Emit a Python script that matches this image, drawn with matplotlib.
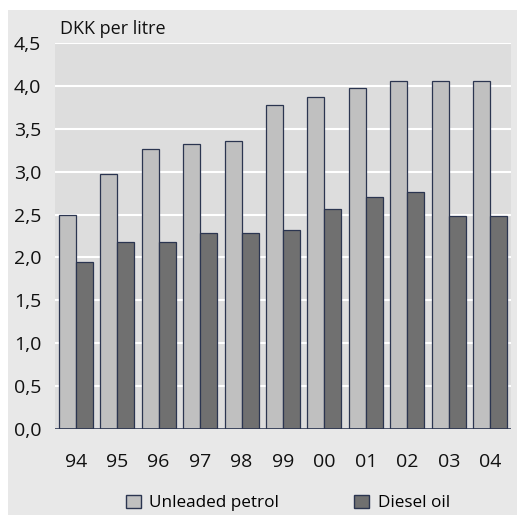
import matplotlib
matplotlib.use("Agg")
import matplotlib.pyplot as plt
import numpy as np
from matplotlib.patches import Rectangle, Patch

years = ["94", "95", "96", "97", "98", "99", "00", "01", "02", "03", "04"]
unleaded = [2.50, 2.97, 3.27, 3.32, 3.36, 3.78, 3.87, 3.97, 4.06, 4.06, 4.06]
diesel = [1.95, 2.18, 2.18, 2.29, 2.29, 2.32, 2.57, 2.71, 2.76, 2.48, 2.48]
yticks = [0.0, 0.5, 1.0, 1.5, 2.0, 2.5, 3.0, 3.5, 4.0, 4.5]
ytick_labels = ["0,0", "0,5", "1,0", "1,5", "2,0", "2,5", "3,0", "3,5", "4,0", "4,5"]

plt.rcParams['font.family'] = ['Open Sans', 'DejaVu Sans']

W, H = 518, 515
fig = plt.figure(figsize=(W/100, H/100), dpi=100)
fig.patch.set_facecolor("white")
fig.patches.append(Rectangle((8/W, 0), (517 - 8)/W, (H-10)/H, transform=fig.transFigure,
                             facecolor="#e8e8e8", edgecolor="none", zorder=-5))

ax = fig.add_axes([55/W, (H-429)/H, (511-55)/W, (429-43)/H])
ax.set_facecolor("#dddddd")
x = np.arange(len(years))
bw = 0.41
ec = "#2b3550"
ax.bar(x - bw/2, unleaded, bw, color="#c0c0c0", edgecolor=ec, linewidth=0.9, zorder=3,
       label="Unleaded petrol")
ax.bar(x + bw/2, diesel, bw, color="#707070", edgecolor=ec, linewidth=0.9, zorder=3,
       label="Diesel oil")
ax.set_xlim(-0.5, len(years) - 0.5)
ax.set_ylim(0, 4.5)
ax.set_yticks(yticks)
ax.set_yticklabels(ytick_labels, fontsize=14, color="#111111")
ax.set_xticks(x)
ax.set_xticklabels(years, fontsize=14, color="#111111")
ax.tick_params(axis="both", length=0)
ax.tick_params(axis="y", pad=10)
ax.tick_params(axis="x", pad=17)
for s in ax.spines.values():
    s.set_visible(False)
ax.yaxis.grid(True, color="white", linewidth=1.5, zorder=1)
ax.set_axisbelow(True)
ax.axhline(0, color=ec, linewidth=1.2, zorder=4)

fig.text(60/W, 1 - 29/H, "DKK per litre", fontsize=13, va="center", ha="left", color="#111111")

handles = [Patch(facecolor="#c0c0c0", edgecolor=ec, label="Unleaded petrol"),
           Patch(facecolor="#707070", edgecolor=ec, label="Diesel oil")]
fig.legend(handles=handles, loc="center", bbox_to_anchor=(288/W, 1 - 503/H), ncol=2,
           frameon=False, fontsize=12.3, handlelength=0.85, handleheight=0.85,
           columnspacing=4.4, handletextpad=0.5)

fig.savefig("out.png", dpi=100, facecolor=fig.get_facecolor())
